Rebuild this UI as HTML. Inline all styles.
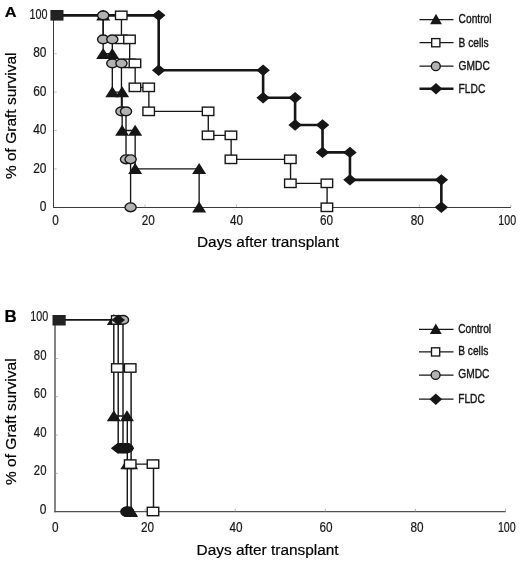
<!DOCTYPE html>
<html><head><meta charset="utf-8"><title>Graft survival</title>
<style>
html,body{margin:0;padding:0;background:#fff;}
svg{display:block;font-family:"Liberation Sans",sans-serif;will-change:transform;filter:grayscale(1);}
</style></head>
<body>
<svg width="520" height="562" viewBox="0 0 520 562">
<rect width="520" height="562" fill="#fff"/>
<line x1="53.5" y1="15" x2="53.5" y2="208" stroke="#3a3a3a" stroke-width="1"/>
<line x1="53" y1="207.5" x2="510.8" y2="207.5" stroke="#3a3a3a" stroke-width="1"/>
<line x1="54" y1="168.91" x2="56.8" y2="168.91" stroke="#a8a8a8" stroke-width="0.7"/>
<line x1="54" y1="130.52" x2="56.8" y2="130.52" stroke="#a8a8a8" stroke-width="0.7"/>
<line x1="54" y1="92.13" x2="56.8" y2="92.13" stroke="#a8a8a8" stroke-width="0.7"/>
<line x1="54" y1="53.74" x2="56.8" y2="53.74" stroke="#a8a8a8" stroke-width="0.7"/>
<line x1="145.04" y1="204.4" x2="145.04" y2="207" stroke="#a8a8a8" stroke-width="0.7"/>
<line x1="236.48" y1="204.4" x2="236.48" y2="207" stroke="#a8a8a8" stroke-width="0.7"/>
<line x1="327.92" y1="204.4" x2="327.92" y2="207" stroke="#a8a8a8" stroke-width="0.7"/>
<line x1="419.36" y1="204.4" x2="419.36" y2="207" stroke="#a8a8a8" stroke-width="0.7"/>
<line x1="510.8" y1="204.4" x2="510.8" y2="207" stroke="#a8a8a8" stroke-width="0.7"/>
<text transform="translate(46.5 210.9) scale(0.83 1)" font-size="14.4" text-anchor="end" font-weight="normal" fill="#161616" stroke="#161616" stroke-width="0.22">0</text>
<text transform="translate(46.5 172.51) scale(0.83 1)" font-size="14.4" text-anchor="end" font-weight="normal" fill="#161616" stroke="#161616" stroke-width="0.22">20</text>
<text transform="translate(46.5 134.12) scale(0.83 1)" font-size="14.4" text-anchor="end" font-weight="normal" fill="#161616" stroke="#161616" stroke-width="0.22">40</text>
<text transform="translate(46.5 95.73) scale(0.83 1)" font-size="14.4" text-anchor="end" font-weight="normal" fill="#161616" stroke="#161616" stroke-width="0.22">60</text>
<text transform="translate(46.5 57.34) scale(0.83 1)" font-size="14.4" text-anchor="end" font-weight="normal" fill="#161616" stroke="#161616" stroke-width="0.22">80</text>
<text transform="translate(47.5 18.75) scale(0.75 1)" font-size="14.4" text-anchor="end" font-weight="normal" fill="#161616" stroke="#161616" stroke-width="0.22">100</text>
<text transform="translate(55.5 224.8) scale(0.84 1)" font-size="14" text-anchor="middle" font-weight="normal" fill="#161616" stroke="#161616" stroke-width="0.22">0</text>
<text transform="translate(148.2 224.8) scale(0.84 1)" font-size="14" text-anchor="middle" font-weight="normal" fill="#161616" stroke="#161616" stroke-width="0.22">20</text>
<text transform="translate(236.5 224.8) scale(0.84 1)" font-size="14" text-anchor="middle" font-weight="normal" fill="#161616" stroke="#161616" stroke-width="0.22">40</text>
<text transform="translate(326.5 224.8) scale(0.84 1)" font-size="14" text-anchor="middle" font-weight="normal" fill="#161616" stroke="#161616" stroke-width="0.22">60</text>
<text transform="translate(417.2 224.8) scale(0.84 1)" font-size="14" text-anchor="middle" font-weight="normal" fill="#161616" stroke="#161616" stroke-width="0.22">80</text>
<text transform="translate(507.2 224.8) scale(0.76 1)" font-size="14" text-anchor="middle" font-weight="normal" fill="#161616" stroke="#161616" stroke-width="0.22">100</text>
<text x="197" y="246.5" font-size="15.4" fill="#000" stroke="#000" stroke-width="0.2">Days after transplant</text>
<text transform="translate(15.9 179.1) rotate(-90)" font-size="15.5" fill="#000" stroke="#000" stroke-width="0.2">% of Graft survival</text>
<text transform="translate(4.7 16.9) scale(1.06 1)" font-size="15.4" text-anchor="start" font-weight="bold" fill="#000" stroke="#000" stroke-width="0.22">A</text>
<polyline points="57,15.35 158.7,15.35 158.7,70.25 263.12,70.25 263.12,97.7 295.11,97.7 295.11,124.95 322.53,124.95 322.53,152.4 349.95,152.4 349.95,179.85 441.35,179.85 441.35,207.3" fill="none" stroke="#161616" stroke-width="2.6" stroke-linejoin="miter"/>
<polyline points="57,15.35 103.17,15.35 103.17,53.74 112.31,53.74 112.31,92.13 122.14,92.13 122.14,130.52 135.16,130.52 135.16,168.91 199.14,168.91 199.14,207.3" fill="none" stroke="#161616" stroke-width="1.35" stroke-linejoin="miter"/>
<polyline points="57,15.35 121.45,15.35 121.45,39.34 129.68,39.34 129.68,63.34 135.16,63.34 135.16,87.33 148.87,87.33 148.87,111.33 208.28,111.33 208.28,135.32 231.13,135.32 231.13,159.31 290.54,159.31 290.54,183.31 327.1,183.31 327.1,207.3" fill="none" stroke="#161616" stroke-width="1.35" stroke-linejoin="miter"/>
<polyline points="57,15.35 103.17,15.35 103.17,39.34 112.31,39.34 112.31,63.34 121.45,63.34 121.45,111.33 126.02,111.33 126.02,159.31 130.59,159.31 130.59,207.3" fill="none" stroke="#161616" stroke-width="1.35" stroke-linejoin="miter"/>
<polygon points="103.17,9.55 110.17,20.55 96.17,20.55" fill="#161616"/>
<polygon points="103.17,47.94 110.17,58.94 96.17,58.94" fill="#161616"/>
<polygon points="112.31,47.94 119.31,58.94 105.31,58.94" fill="#161616"/>
<polygon points="112.31,86.33 119.31,97.33 105.31,97.33" fill="#161616"/>
<polygon points="122.14,86.33 129.14,97.33 115.14,97.33" fill="#161616"/>
<polygon points="122.14,124.72 129.14,135.72 115.14,135.72" fill="#161616"/>
<polygon points="135.16,124.72 142.16,135.72 128.16,135.72" fill="#161616"/>
<polygon points="135.16,163.11 142.16,174.11 128.16,174.11" fill="#161616"/>
<polygon points="199.14,163.11 206.14,174.11 192.14,174.11" fill="#161616"/>
<polygon points="199.14,201.5 206.14,212.5 192.14,212.5" fill="#161616"/>
<rect x="115.5" y="11.15" width="11.5" height="8.4" fill="#fff" stroke="#161616" stroke-width="1.4"/>
<rect x="115.5" y="35.14" width="11.5" height="8.4" fill="#fff" stroke="#161616" stroke-width="1.4"/>
<rect x="123.73" y="35.14" width="11.5" height="8.4" fill="#fff" stroke="#161616" stroke-width="1.4"/>
<rect x="123.73" y="59.14" width="11.5" height="8.4" fill="#fff" stroke="#161616" stroke-width="1.4"/>
<rect x="129.21" y="59.14" width="11.5" height="8.4" fill="#fff" stroke="#161616" stroke-width="1.4"/>
<rect x="129.21" y="83.13" width="11.5" height="8.4" fill="#fff" stroke="#161616" stroke-width="1.4"/>
<rect x="142.92" y="83.13" width="11.5" height="8.4" fill="#fff" stroke="#161616" stroke-width="1.4"/>
<rect x="142.92" y="107.13" width="11.5" height="8.4" fill="#fff" stroke="#161616" stroke-width="1.4"/>
<rect x="202.33" y="107.13" width="11.5" height="8.4" fill="#fff" stroke="#161616" stroke-width="1.4"/>
<rect x="202.33" y="131.12" width="11.5" height="8.4" fill="#fff" stroke="#161616" stroke-width="1.4"/>
<rect x="225.18" y="131.12" width="11.5" height="8.4" fill="#fff" stroke="#161616" stroke-width="1.4"/>
<rect x="225.18" y="155.11" width="11.5" height="8.4" fill="#fff" stroke="#161616" stroke-width="1.4"/>
<rect x="284.59" y="155.11" width="11.5" height="8.4" fill="#fff" stroke="#161616" stroke-width="1.4"/>
<rect x="284.59" y="179.11" width="11.5" height="8.4" fill="#fff" stroke="#161616" stroke-width="1.4"/>
<rect x="321.15" y="179.11" width="11.5" height="8.4" fill="#fff" stroke="#161616" stroke-width="1.4"/>
<rect x="321.15" y="203.1" width="11.5" height="8.4" fill="#fff" stroke="#161616" stroke-width="1.4"/>
<ellipse cx="103.17" cy="15.35" rx="5.6" ry="4.4" fill="#b2b2b2" stroke="#161616" stroke-width="1.4"/>
<ellipse cx="103.17" cy="39.34" rx="5.6" ry="4.4" fill="#b2b2b2" stroke="#161616" stroke-width="1.4"/>
<ellipse cx="112.31" cy="39.34" rx="5.6" ry="4.4" fill="#b2b2b2" stroke="#161616" stroke-width="1.4"/>
<ellipse cx="112.31" cy="63.34" rx="5.6" ry="4.4" fill="#b2b2b2" stroke="#161616" stroke-width="1.4"/>
<ellipse cx="121.45" cy="63.34" rx="5.6" ry="4.4" fill="#b2b2b2" stroke="#161616" stroke-width="1.4"/>
<ellipse cx="121.45" cy="111.33" rx="5.6" ry="4.4" fill="#b2b2b2" stroke="#161616" stroke-width="1.4"/>
<ellipse cx="126.02" cy="111.33" rx="5.6" ry="4.4" fill="#b2b2b2" stroke="#161616" stroke-width="1.4"/>
<ellipse cx="126.02" cy="159.31" rx="5.6" ry="4.4" fill="#b2b2b2" stroke="#161616" stroke-width="1.4"/>
<ellipse cx="130.59" cy="159.31" rx="5.6" ry="4.4" fill="#b2b2b2" stroke="#161616" stroke-width="1.4"/>
<ellipse cx="130.59" cy="207.3" rx="5.6" ry="4.4" fill="#b2b2b2" stroke="#161616" stroke-width="1.4"/>
<polygon points="158.7,9.65 165.45,15.35 158.7,21.05 151.95,15.35" fill="#161616"/>
<polygon points="158.7,64.55 165.45,70.25 158.7,75.95 151.95,70.25" fill="#161616"/>
<polygon points="263.12,64.55 269.87,70.25 263.12,75.95 256.37,70.25" fill="#161616"/>
<polygon points="263.12,92 269.87,97.7 263.12,103.4 256.37,97.7" fill="#161616"/>
<polygon points="295.11,92 301.86,97.7 295.11,103.4 288.36,97.7" fill="#161616"/>
<polygon points="295.11,119.25 301.86,124.95 295.11,130.65 288.36,124.95" fill="#161616"/>
<polygon points="322.53,119.25 329.28,124.95 322.53,130.65 315.78,124.95" fill="#161616"/>
<polygon points="322.53,146.7 329.28,152.4 322.53,158.1 315.78,152.4" fill="#161616"/>
<polygon points="349.95,146.7 356.7,152.4 349.95,158.1 343.2,152.4" fill="#161616"/>
<polygon points="349.95,174.15 356.7,179.85 349.95,185.55 343.2,179.85" fill="#161616"/>
<polygon points="441.35,174.15 448.1,179.85 441.35,185.55 434.6,179.85" fill="#161616"/>
<polygon points="441.35,201.6 448.1,207.3 441.35,213 434.6,207.3" fill="#161616"/>
<rect x="50.4" y="10" width="13.1" height="10.6" fill="#222"/>
<line x1="419.5" y1="19.6" x2="453.5" y2="19.6" stroke="#161616" stroke-width="1.25"/>
<polygon points="436,13.8 441.9,24.2 430.1,24.2" fill="#161616"/>
<text transform="translate(458.6 23.4) scale(0.83 1)" font-size="12.3" text-anchor="start" font-weight="normal" fill="#161616" stroke="#161616" stroke-width="0.4">Control</text>
<line x1="419.5" y1="42.7" x2="453.5" y2="42.7" stroke="#161616" stroke-width="1.25"/>
<rect x="431.7" y="38.6" width="8.2" height="8.2" fill="#fff" stroke="#161616" stroke-width="1.35"/>
<text transform="translate(458.6 46.5) scale(0.83 1)" font-size="12.3" text-anchor="start" font-weight="normal" fill="#161616" stroke="#161616" stroke-width="0.4">B cells</text>
<line x1="419.5" y1="66.2" x2="453.5" y2="66.2" stroke="#161616" stroke-width="1.25"/>
<circle cx="435.8" cy="66.2" r="4.45" fill="#b2b2b2" stroke="#161616" stroke-width="1.35"/>
<text transform="translate(458.6 70) scale(0.83 1)" font-size="12.3" text-anchor="start" font-weight="normal" fill="#161616" stroke="#161616" stroke-width="0.4">GMDC</text>
<line x1="419.5" y1="88.8" x2="453.5" y2="88.8" stroke="#161616" stroke-width="2.5"/>
<polygon points="436,83 442.3,88.8 436,94.6 429.7,88.8" fill="#161616"/>
<text transform="translate(458.6 92.6) scale(0.83 1)" font-size="12.3" text-anchor="start" font-weight="normal" fill="#161616" stroke="#161616" stroke-width="0.4">FLDC</text>
<line x1="55" y1="319.5" x2="55" y2="512.3" stroke="#505050" stroke-width="1.4"/>
<line x1="54.3" y1="511.7" x2="505.8" y2="511.7" stroke="#505050" stroke-width="1.3"/>
<line x1="55" y1="473.24" x2="58" y2="473.24" stroke="#9a9a9a" stroke-width="0.7"/>
<text transform="translate(46.5 474.64) scale(0.79 1)" font-size="14.4" text-anchor="end" font-weight="normal" fill="#161616" stroke="#161616" stroke-width="0.22">20</text>
<line x1="55" y1="434.98" x2="58" y2="434.98" stroke="#9a9a9a" stroke-width="0.7"/>
<text transform="translate(46.5 436.98) scale(0.79 1)" font-size="14.4" text-anchor="end" font-weight="normal" fill="#161616" stroke="#161616" stroke-width="0.22">40</text>
<line x1="55" y1="396.72" x2="58" y2="396.72" stroke="#9a9a9a" stroke-width="0.7"/>
<text transform="translate(46.5 398.12) scale(0.79 1)" font-size="14.4" text-anchor="end" font-weight="normal" fill="#161616" stroke="#161616" stroke-width="0.22">60</text>
<line x1="55" y1="358.46" x2="58" y2="358.46" stroke="#9a9a9a" stroke-width="0.7"/>
<text transform="translate(46.5 359.86) scale(0.79 1)" font-size="14.4" text-anchor="end" font-weight="normal" fill="#161616" stroke="#161616" stroke-width="0.22">80</text>
<text transform="translate(46.5 514.2) scale(0.83 1)" font-size="14.4" text-anchor="end" font-weight="normal" fill="#161616" stroke="#161616" stroke-width="0.22">0</text>
<text transform="translate(48.2 320.9) scale(0.75 1)" font-size="14.4" text-anchor="end" font-weight="normal" fill="#161616" stroke="#161616" stroke-width="0.22">100</text>
<line x1="145.1" y1="508.7" x2="145.1" y2="511.5" stroke="#9a9a9a" stroke-width="0.7"/>
<line x1="235.2" y1="508.7" x2="235.2" y2="511.5" stroke="#9a9a9a" stroke-width="0.7"/>
<line x1="325.3" y1="508.7" x2="325.3" y2="511.5" stroke="#9a9a9a" stroke-width="0.7"/>
<line x1="415.4" y1="508.7" x2="415.4" y2="511.5" stroke="#9a9a9a" stroke-width="0.7"/>
<line x1="505.5" y1="508.7" x2="505.5" y2="511.5" stroke="#9a9a9a" stroke-width="0.7"/>
<text transform="translate(55.3 532.3) scale(0.84 1)" font-size="14" text-anchor="middle" font-weight="normal" fill="#161616" stroke="#161616" stroke-width="0.22">0</text>
<text transform="translate(147.5 532.3) scale(0.84 1)" font-size="14" text-anchor="middle" font-weight="normal" fill="#161616" stroke="#161616" stroke-width="0.22">20</text>
<text transform="translate(236 532.3) scale(0.84 1)" font-size="14" text-anchor="middle" font-weight="normal" fill="#161616" stroke="#161616" stroke-width="0.22">40</text>
<text transform="translate(325.9 532.3) scale(0.84 1)" font-size="14" text-anchor="middle" font-weight="normal" fill="#161616" stroke="#161616" stroke-width="0.22">60</text>
<text transform="translate(416.9 532.3) scale(0.84 1)" font-size="14" text-anchor="middle" font-weight="normal" fill="#161616" stroke="#161616" stroke-width="0.22">80</text>
<text transform="translate(506.8 532.3) scale(0.76 1)" font-size="14" text-anchor="middle" font-weight="normal" fill="#161616" stroke="#161616" stroke-width="0.22">100</text>
<text x="196.6" y="555.3" font-size="15.4" fill="#000" stroke="#000" stroke-width="0.2">Days after transplant</text>
<text transform="translate(15.9 485) rotate(-90)" font-size="15.5" fill="#000" stroke="#000" stroke-width="0.2">% of Graft survival</text>
<text transform="translate(4.6 321.6) scale(1.08 1)" font-size="15.6" text-anchor="start" font-weight="bold" fill="#000" stroke="#000" stroke-width="0.22">B</text>
<line x1="59.1" y1="319.9" x2="123" y2="319.9" stroke="#161616" stroke-width="1.6"/>
<polyline points="113.8,319.3 113.8,416 127.3,416" fill="none" stroke="#161616" stroke-width="1.45" stroke-linejoin="miter"/>
<polyline points="118.2,319.3 118.2,448.2 127.3,448.2" fill="none" stroke="#161616" stroke-width="1.45" stroke-linejoin="miter"/>
<polyline points="123,319.3 123,448.2" fill="none" stroke="#161616" stroke-width="1.45" stroke-linejoin="miter"/>
<polyline points="118.2,368 131.1,368 131.1,511.5" fill="none" stroke="#161616" stroke-width="1.45" stroke-linejoin="miter"/>
<polyline points="127.3,416 127.3,511.5" fill="none" stroke="#161616" stroke-width="1.45" stroke-linejoin="miter"/>
<polyline points="127.3,464.1 153.5,464.1 153.5,511.5" fill="none" stroke="#161616" stroke-width="1.45" stroke-linejoin="miter"/>
<polygon points="113.8,314.1 120.8,325.1 106.8,325.1" fill="#161616"/>
<polygon points="113.8,410.2 120.8,421.2 106.8,421.2" fill="#161616"/>
<polygon points="127,410.2 134,421.2 120,421.2" fill="#161616"/>
<polygon points="127.3,458.3 134.3,469.3 120.3,469.3" fill="#161616"/>
<polygon points="131.1,458.3 138.1,469.3 124.1,469.3" fill="#161616"/>
<polygon points="131.1,505.7 138.1,516.7 124.1,516.7" fill="#161616"/>
<rect x="111.55" y="315.7" width="11.5" height="8.4" fill="#fff" stroke="#161616" stroke-width="1.4"/>
<rect x="111.55" y="363.8" width="11.5" height="8.4" fill="#fff" stroke="#161616" stroke-width="1.4"/>
<rect x="124.45" y="363.8" width="11.5" height="8.4" fill="#fff" stroke="#161616" stroke-width="1.4"/>
<rect x="124.45" y="459.9" width="11.5" height="8.4" fill="#fff" stroke="#161616" stroke-width="1.4"/>
<rect x="147.25" y="459.9" width="11.5" height="8.4" fill="#fff" stroke="#161616" stroke-width="1.4"/>
<rect x="147.25" y="507.3" width="11.5" height="8.4" fill="#fff" stroke="#161616" stroke-width="1.4"/>
<ellipse cx="123" cy="319.9" rx="5.6" ry="4.4" fill="#b2b2b2" stroke="#161616" stroke-width="1.4"/>
<ellipse cx="123" cy="448.2" rx="5.6" ry="4.4" fill="#b2b2b2" stroke="#161616" stroke-width="1.4"/>
<ellipse cx="127.3" cy="448.2" rx="5.6" ry="4.4" fill="#b2b2b2" stroke="#161616" stroke-width="1.4"/>
<ellipse cx="127.3" cy="511.5" rx="5.6" ry="4.4" fill="#b2b2b2" stroke="#161616" stroke-width="1.4"/>
<polygon points="118.2,314.6 125,319.9 118.2,325.2 111.4,319.9" fill="#161616"/>
<polygon points="118.2,442.9 125,448.2 118.2,453.5 111.4,448.2" fill="#161616"/>
<polygon points="127.3,442.9 134.1,448.2 127.3,453.5 120.5,448.2" fill="#161616"/>
<polygon points="127.3,506.2 134.1,511.5 127.3,516.8 120.5,511.5" fill="#161616"/>
<polygon points="110.9,448.2 117.6,443.1 128,443.1 134.2,448.2 128,453.5 117.6,453.5" fill="#161616"/>
<ellipse cx="127.2" cy="511.7" rx="7.1" ry="5.4" fill="#161616"/>
<polygon points="124,517 137.6,517 131.6,507" fill="#161616"/>
<rect x="52.5" y="315" width="13.2" height="10.5" fill="#222"/>
<line x1="419" y1="329.3" x2="453.5" y2="329.3" stroke="#161616" stroke-width="1.25"/>
<polygon points="435.8,323.5 441.7,333.9 429.9,333.9" fill="#161616"/>
<text transform="translate(458.2 332.6) scale(0.83 1)" font-size="12.3" text-anchor="start" font-weight="normal" fill="#161616" stroke="#161616" stroke-width="0.4">Control</text>
<line x1="419" y1="351.9" x2="453.5" y2="351.9" stroke="#161616" stroke-width="1.25"/>
<rect x="431.5" y="347.8" width="8.2" height="8.2" fill="#fff" stroke="#161616" stroke-width="1.35"/>
<text transform="translate(458.2 355.2) scale(0.83 1)" font-size="12.3" text-anchor="start" font-weight="normal" fill="#161616" stroke="#161616" stroke-width="0.4">B cells</text>
<line x1="419" y1="375" x2="453.5" y2="375" stroke="#161616" stroke-width="1.25"/>
<circle cx="435.6" cy="375" r="4.45" fill="#b2b2b2" stroke="#161616" stroke-width="1.35"/>
<text transform="translate(458.2 378.3) scale(0.83 1)" font-size="12.3" text-anchor="start" font-weight="normal" fill="#161616" stroke="#161616" stroke-width="0.4">GMDC</text>
<line x1="419" y1="399.2" x2="453.5" y2="399.2" stroke="#161616" stroke-width="1.25"/>
<polygon points="435.8,393.4 442.1,399.2 435.8,405 429.5,399.2" fill="#161616"/>
<text transform="translate(458.2 402.5) scale(0.83 1)" font-size="12.3" text-anchor="start" font-weight="normal" fill="#161616" stroke="#161616" stroke-width="0.4">FLDC</text>
</svg>
</body></html>
